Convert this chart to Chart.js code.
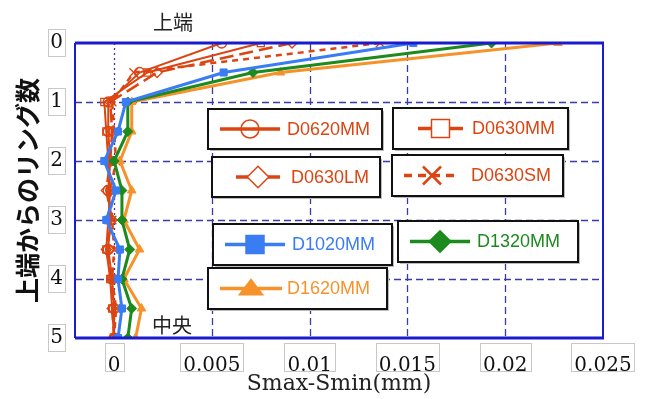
<!DOCTYPE html>
<html>
<head>
<meta charset="utf-8">
<script src="https://cdn.jsdelivr.net/npm/chart.js@4"></script>
<style>
  html, body { margin: 0; padding: 0; background: #fff; }
  #wrap { width: 645px; height: 399px; }
</style>
</head>
<body>
<div id="wrap"><canvas id="ringChart"></canvas></div>
<script>
// ring number from top (0 = top, 5 = middle)
const ringLevels = [0, 0.5, 1, 1.5, 2, 2.5, 3, 3.5, 4, 4.5, 5];
const xTicks = [0, 0.005, 0.01, 0.015, 0.02, 0.025];

const seriesNames = ["D0620MM", "D0630MM", "D0630LM", "D0630SM", "D1020MM", "D1320MM", "D1620MM"];

// Smax-Smin (mm) per ring level
const d0620mm = [0.0055, 0.0013, -0.0003, -0.0003, -0.0002, -0.0003, -0.0002, -0.0003, -0.0001, 0.0000, 0.0000];
const d0630mm = [0.0075, 0.0017, -0.0005, -0.0004, -0.0003, -0.0002, -0.0003, -0.0004, -0.0002, -0.0001, 0.0000];
const d0630lm = [0.0091, 0.0022, -0.0002, -0.0001, -0.0002, -0.0004, -0.0001, -0.0004, -0.0001, -0.0001, 0.0000];
const d0630sm = [0.0136, 0.0010, -0.0001, 0.0000, 0.0001, -0.0002, -0.0001, 0.0000, -0.0001, 0.0001, 0.0000];
const d1020mm = [0.0153, 0.0056, 0.0006, 0.0002, -0.0005, 0.0001, -0.0004, 0.0003, 0.0002, 0.0004, 0.0002];
const d1320mm = [0.0193, 0.0071, 0.0007, 0.0007, 0.0000, 0.0004, 0.0004, 0.0008, 0.0004, 0.0009, 0.0007];
const d1620mm = [0.0227, 0.0085, 0.0009, 0.0009, 0.0003, 0.0009, 0.0005, 0.0013, 0.0005, 0.0014, 0.0011];

const RED = "#dc4512", BLUE = "#3a7cf2", GREEN = "#1c8a1c", ORANGE = "#f7922a";
const GRID = "#3a3aa8", FRAME = "#1a1ad0";

function pts(vals) {
  return ringLevels.map((y, i) => ({ x: vals[i], y: y }));
}

function series(i, vals, color, style, filled, width, dash, radius) {
  return {
    label: seriesNames[i],
    data: pts(vals),
    showLine: true,
    borderColor: color,
    backgroundColor: filled ? color : "rgba(255,255,255,0)",
    pointBorderColor: color,
    pointBackgroundColor: filled ? color : "rgba(255,255,255,0)",
    pointStyle: style,
    pointRadius: radius,
    pointBorderWidth: filled ? 1 : 1.3,
    borderWidth: width,
    borderDash: dash,
    _filled: filled
  };
}

const datasets = [
  series(4, d1020mm, BLUE, "rect", true, 3, [], 5),
  series(5, d1320mm, GREEN, "rectRot", true, 3, [], 5),
  series(6, d1620mm, ORANGE, "triangle", true, 3, [], 5),
  series(0, d0620mm, RED, "circle", false, 2, [], 5),
  series(1, d0630mm, RED, "rect", false, 2, [], 5),
  series(2, d0630lm, RED, "rectRot", false, 2.5, [14, 6], 5),
  series(3, d0630sm, RED, "crossRot", false, 2.5, [6, 5], 6)
];

// legend boxes: [left, top, right, bottom, line start, line end]
const legendBoxes = {
  "D0620MM": [208, 109, 382, 149, 12, 72],
  "D0630MM": [393, 108, 568, 149, 25, 70],
  "D0630LM": [212, 157, 380, 197, 24, 68],
  "D0630SM": [392, 155, 563, 196, 12, 68],
  "D1020MM": [213, 224, 392, 265, 12, 72],
  "D1320MM": [398, 221, 578, 262, 12, 72],
  "D1620MM": [208, 268, 387, 309, 12, 74]
};

function marker(ctx, style, x, y, r, color, filled) {
  ctx.save();
  ctx.strokeStyle = color;
  ctx.fillStyle = filled ? color : "#fff";
  ctx.lineWidth = 1.5;
  ctx.setLineDash([]);
  ctx.beginPath();
  if (style === "circle") {
    ctx.arc(x, y, r, 0, Math.PI * 2);
  } else if (style === "rect") {
    ctx.rect(x - r, y - r, 2 * r, 2 * r);
  } else if (style === "rectRot") {
    ctx.moveTo(x, y - r * 1.2); ctx.lineTo(x + r * 1.2, y);
    ctx.lineTo(x, y + r * 1.2); ctx.lineTo(x - r * 1.2, y);
    ctx.closePath();
  } else if (style === "triangle") {
    ctx.moveTo(x, y - r); ctx.lineTo(x + r * 1.3, y + r * 0.7);
    ctx.lineTo(x - r * 1.3, y + r * 0.7); ctx.closePath();
  }
  if (style === "crossRot") {
    ctx.lineWidth = 2.5;
    ctx.moveTo(x - r, y - r); ctx.lineTo(x + r, y + r);
    ctx.moveTo(x + r, y - r); ctx.lineTo(x - r, y + r);
    ctx.stroke();
  } else {
    if (filled || style !== "circle") ctx.fill();
    ctx.stroke();
  }
  ctx.restore();
}

const extras = {
  id: "extras",
  beforeDatasetsDraw(chart) {
    const ctx = chart.ctx, a = chart.chartArea;
    const xs = chart.scales.x, ys = chart.scales.y;
    ctx.save();
    ctx.strokeStyle = GRID;
    ctx.lineWidth = 1.3;
    // vertical grid
    xTicks.forEach(v => {
      if (v >= 0.025) return;
      const px = Math.round(xs.getPixelForValue(v)) + 0.5;
      ctx.setLineDash(v === 0 ? [2, 3] : [7, 4]);
      ctx.beginPath(); ctx.moveTo(px, a.top); ctx.lineTo(px, a.bottom); ctx.stroke();
    });
    // horizontal grid
    ctx.setLineDash([7, 4]);
    [1, 2, 3, 4].forEach(v => {
      const py = Math.round(ys.getPixelForValue(v)) + 0.5;
      ctx.beginPath(); ctx.moveTo(a.left, py); ctx.lineTo(a.right, py); ctx.stroke();
    });
    ctx.restore();
  },
  afterDraw(chart) {
    const ctx = chart.ctx, a = chart.chartArea;
    const xs = chart.scales.x, ys = chart.scales.y;
    ctx.save();
    // frame
    ctx.setLineDash([]);
    ctx.strokeStyle = FRAME;
    ctx.lineWidth = 2;
    ctx.beginPath();
    ctx.moveTo(a.left, a.top); ctx.lineTo(a.left, a.bottom);
    ctx.moveTo(a.right, a.top); ctx.lineTo(a.right, a.bottom);
    ctx.stroke();
    ctx.lineWidth = 3;
    ctx.beginPath();
    ctx.moveTo(a.left, a.top); ctx.lineTo(a.right + 1, a.top);
    ctx.moveTo(a.left, a.bottom); ctx.lineTo(a.right + 1, a.bottom);
    ctx.stroke();

    // boxes round tick labels
    ctx.strokeStyle = "#c8c8c8";
    ctx.lineWidth = 1;
    ctx.font = "20px 'DejaVu Serif'";
    xs.ticks.forEach(t => {
      const label = String(t.value);
      const w = ctx.measureText(label).width + 6;
      const px = xs.getPixelForValue(t.value);
      ctx.strokeRect(Math.round(px - w / 2) + 0.5, 343.5, Math.round(w), 28);
    });
    ys.ticks.forEach(t => {
      const py = ys.getPixelForValue(t.value);
      ctx.strokeRect(48.5, Math.round(py - 14) + 0.5, 17, 27);
    });

    // annotations
    ctx.fillStyle = "#222";
    ctx.font = "20px 'Noto Sans CJK JP'";
    ctx.textAlign = "center";
    ctx.textBaseline = "middle";
    ctx.fillText("上端", 173, 22);
    ctx.fillText("中央", 172, 325);

    // legend boxes
    chart.data.datasets.forEach(ds => {
      const [l, t, r, btm, ls, le] = legendBoxes[ds.label];
      const cy = (t + btm) / 2;
      ctx.fillStyle = "#bbb";
      ctx.fillRect(l + 2, t + 2, r - l, btm - t);
      ctx.fillStyle = "#fff";
      ctx.fillRect(l, t, r - l, btm - t);
      ctx.strokeStyle = "#111";
      ctx.lineWidth = 2;
      ctx.setLineDash([]);
      ctx.strokeRect(l, t, r - l, btm - t);
      ctx.strokeStyle = ds.borderColor;
      ctx.lineWidth = 3.5;
      ctx.setLineDash(ds.label === "D0630SM" ? [8, 6] : []);
      ctx.beginPath(); ctx.moveTo(l + ls, cy); ctx.lineTo(l + le, cy); ctx.stroke();
      marker(ctx, ds.pointStyle, l + (ls + le) / 2, cy, 9, ds.borderColor, ds._filled);
      ctx.fillStyle = ds.borderColor;
      ctx.font = "18px 'Liberation Sans'";
      ctx.textAlign = "left";
      ctx.fillText(ds.label, l + 79, cy + 1);
    });
    ctx.restore();
  }
};

new Chart(document.getElementById("ringChart"), {
  type: "scatter",
  data: { datasets: datasets },
  plugins: [extras],
  options: {
    responsive: true,
    maintainAspectRatio: false,
    animation: false,
    layout: { padding: { left: 8, top: 43, right: 42, bottom: 0 } },
    plugins: {
      legend: { display: false },
      tooltip: { enabled: false }
    },
    scales: {
      x: {
        type: "linear",
        min: -0.002,
        max: 0.025,
        afterBuildTicks: s => { s.ticks = xTicks.map(v => ({ value: v })); },
        afterFit: s => { s.height = 61; },
        grid: { display: false },
        border: { display: false },
        ticks: {
          color: "#111",
          padding: 8,
          font: { family: "'DejaVu Serif'", size: 20 },
          callback: v => String(v)
        },
        title: {
          display: true,
          text: "Smax-Smin(mm)",
          color: "#222",
          padding: { top: 0, bottom: 2 },
          font: { family: "'DejaVu Serif'", size: 22 }
        }
      },
      y: {
        type: "linear",
        reverse: true,
        min: 0,
        max: 5,
        afterFit: s => { s.width = 67; },
        grid: { display: false },
        border: { display: false },
        ticks: {
          stepSize: 1,
          color: "#111",
          padding: 4,
          font: { family: "'DejaVu Serif'", size: 20 }
        },
        title: {
          display: true,
          text: "上端からのリング数",
          color: "#111",
          padding: { top: 4, bottom: 0 },
          font: { family: "'Noto Sans CJK JP'", size: 25, weight: "bold" }
        }
      }
    }
  }
});
</script>
</body>
</html>
